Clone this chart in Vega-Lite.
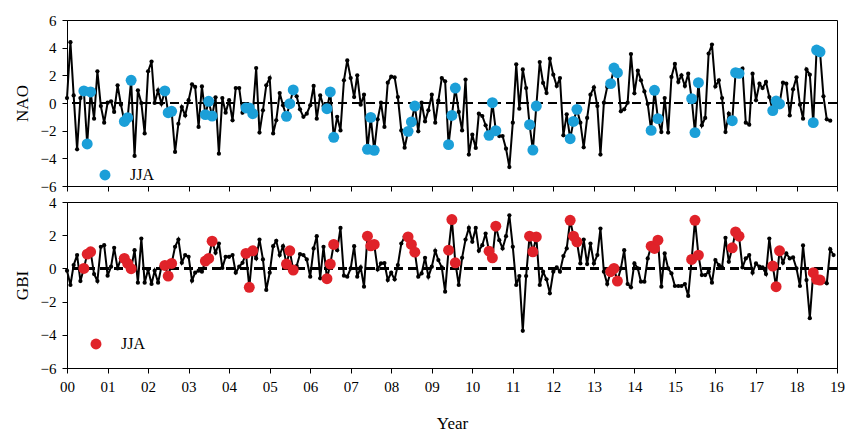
{
  "$schema": "https://vega.github.io/schema/vega-lite/v6.json",
  "background": "white",
  "padding": {"left": 12, "top": 12, "right": 2, "bottom": 5},
  "config": {
    "font": "Liberation Serif",
    "view": {"stroke": "black", "strokeWidth": 1},
    "axis": {
      "grid": false,
      "domainColor": "black",
      "tickColor": "black",
      "labelColor": "black",
      "titleColor": "black",
      "labelFont": "Liberation Serif",
      "titleFont": "Liberation Serif",
      "labelFontSize": 15,
      "titleFontSize": 17,
      "titleFontWeight": "normal",
      "labelOverlap": false,
      "labelFlush": false,
      "tickSize": 5
    },
    "legend": {
      "labelFont": "Liberation Serif",
      "labelFontSize": 16,
      "labelColor": "black",
      "symbolType": "circle",
      "symbolSize": 120,
      "symbolStrokeWidth": 0,
      "labelOffset": 17
    }
  },
  "data": {
    "format": {"parse": {"m": "utc:'%Y-%m'"}},
    "values": [
      {"m":"2000-01","nao":0.36,"gbi":-0.14},{"m":"2000-02","nao":4.4,"gbi":-1.0},{"m":"2000-03","nao":0.55,"gbi":0.2},{"m":"2000-04","nao":-3.35,"gbi":0.8},{"m":"2000-05","nao":0.36,"gbi":-0.76},{"m":"2000-06","nao":0.87,"gbi":0.0},{"m":"2000-07","nao":-2.96,"gbi":0.86},{"m":"2000-08","nao":0.8,"gbi":1.0},{"m":"2000-09","nao":-1.13,"gbi":-0.34},{"m":"2000-10","nao":2.29,"gbi":-0.76},{"m":"2000-11","nao":-0.22,"gbi":1.3},{"m":"2000-12","nao":-1.42,"gbi":1.4},
      {"m":"2001-01","nao":0.02,"gbi":-0.44},{"m":"2001-02","nao":0.12,"gbi":0.1},{"m":"2001-03","nao":-0.65,"gbi":1.24},{"m":"2001-04","nao":1.28,"gbi":0.0},{"m":"2001-05","nao":-0.12,"gbi":0.6},{"m":"2001-06","nao":-1.33,"gbi":0.6},{"m":"2001-07","nao":-1.06,"gbi":0.3},{"m":"2001-08","nao":1.64,"gbi":-0.02},{"m":"2001-09","nao":-3.83,"gbi":1.1},{"m":"2001-10","nao":0.92,"gbi":-0.86},{"m":"2001-11","nao":0.0,"gbi":1.8},{"m":"2001-12","nao":-2.2,"gbi":-0.86},
      {"m":"2002-01","nao":2.29,"gbi":-0.06},{"m":"2002-02","nao":3.0,"gbi":-0.94},{"m":"2002-03","nao":0.0,"gbi":-0.14},{"m":"2002-04","nao":0.92,"gbi":-0.86},{"m":"2002-05","nao":-0.05,"gbi":0.1},{"m":"2002-06","nao":0.87,"gbi":0.18},{"m":"2002-07","nao":-0.7,"gbi":-0.46},{"m":"2002-08","nao":-0.6,"gbi":0.3},{"m":"2002-09","nao":-3.54,"gbi":1.3},{"m":"2002-10","nao":-1.5,"gbi":1.74},{"m":"2002-11","nao":-0.29,"gbi":0.34},{"m":"2002-12","nao":-0.9,"gbi":0.8},
      {"m":"2003-01","nao":0.2,"gbi":0.7},{"m":"2003-02","nao":1.35,"gbi":-0.74},{"m":"2003-03","nao":1.16,"gbi":-0.26},{"m":"2003-04","nao":-1.73,"gbi":-0.14},{"m":"2003-05","nao":1.2,"gbi":-0.2},{"m":"2003-06","nao":-0.84,"gbi":0.44},{"m":"2003-07","nao":0.12,"gbi":0.6},{"m":"2003-08","nao":-0.94,"gbi":1.64},{"m":"2003-09","nao":0.41,"gbi":0.94},{"m":"2003-10","nao":-3.66,"gbi":1.5},{"m":"2003-11","nao":0.36,"gbi":0.03},{"m":"2003-12","nao":-0.7,"gbi":0.7},
      {"m":"2004-01","nao":0.2,"gbi":0.7},{"m":"2004-02","nao":-1.25,"gbi":0.8},{"m":"2004-03","nao":1.08,"gbi":-0.26},{"m":"2004-04","nao":1.08,"gbi":0.1},{"m":"2004-05","nao":-0.7,"gbi":0.34},{"m":"2004-06","nao":-0.36,"gbi":0.9},{"m":"2004-07","nao":-0.36,"gbi":-1.14},{"m":"2004-08","nao":-0.77,"gbi":1.06},{"m":"2004-09","nao":2.53,"gbi":0.6},{"m":"2004-10","nao":-2.14,"gbi":1.74},{"m":"2004-11","nao":-0.53,"gbi":0.54},{"m":"2004-12","nao":1.28,"gbi":-1.3},
      {"m":"2005-01","nao":1.8,"gbi":-0.26},{"m":"2005-02","nao":-2.2,"gbi":1.34},{"m":"2005-03","nao":-1.25,"gbi":1.66},{"m":"2005-04","nao":0.72,"gbi":0.8},{"m":"2005-05","nao":-0.17,"gbi":1.34},{"m":"2005-06","nao":-0.96,"gbi":0.26},{"m":"2005-07","nao":-0.05,"gbi":1.06},{"m":"2005-08","nao":0.94,"gbi":-0.1},{"m":"2005-09","nao":0.48,"gbi":0.14},{"m":"2005-10","nao":-0.46,"gbi":0.86},{"m":"2005-11","nao":-1.0,"gbi":0.8},{"m":"2005-12","nao":-0.77,"gbi":0.54},
      {"m":"2006-01","nao":-0.17,"gbi":-0.5},{"m":"2006-02","nao":1.23,"gbi":1.2},{"m":"2006-03","nao":-1.13,"gbi":1.94},{"m":"2006-04","nao":0.55,"gbi":-0.6},{"m":"2006-05","nao":-0.22,"gbi":1.3},{"m":"2006-06","nao":-0.41,"gbi":-0.62},{"m":"2006-07","nao":0.8,"gbi":0.26},{"m":"2006-08","nao":-2.48,"gbi":1.44},{"m":"2006-09","nao":-1.0,"gbi":1.1},{"m":"2006-10","nao":-1.98,"gbi":2.44},{"m":"2006-11","nao":1.64,"gbi":-0.44},{"m":"2006-12","nao":3.08,"gbi":-0.5},
      {"m":"2007-01","nao":1.8,"gbi":0.0},{"m":"2007-02","nao":0.43,"gbi":1.34},{"m":"2007-03","nao":2.0,"gbi":-0.5},{"m":"2007-04","nao":-0.12,"gbi":0.06},{"m":"2007-05","nao":0.6,"gbi":-1.1},{"m":"2007-06","nao":-3.35,"gbi":1.94},{"m":"2007-07","nao":-1.04,"gbi":1.36},{"m":"2007-08","nao":-3.42,"gbi":1.44},{"m":"2007-09","nao":-1.18,"gbi":-0.06},{"m":"2007-10","nao":0.02,"gbi":0.3},{"m":"2007-11","nao":-1.73,"gbi":0.32},{"m":"2007-12","nao":1.47,"gbi":-0.7},
      {"m":"2008-01","nao":1.9,"gbi":-0.26},{"m":"2008-02","nao":1.85,"gbi":-0.66},{"m":"2008-03","nao":0.43,"gbi":0.2},{"m":"2008-04","nao":-1.98,"gbi":1.5},{"m":"2008-05","nao":-3.23,"gbi":1.9},{"m":"2008-06","nao":-2.05,"gbi":1.9},{"m":"2008-07","nao":-1.37,"gbi":1.44},{"m":"2008-08","nao":-0.22,"gbi":0.98},{"m":"2008-09","nao":-2.05,"gbi":-0.5},{"m":"2008-10","nao":0.02,"gbi":-0.3},{"m":"2008-11","nao":-1.33,"gbi":0.64},{"m":"2008-12","nao":-0.53,"gbi":-0.5},
      {"m":"2009-01","nao":0.6,"gbi":0.1},{"m":"2009-02","nao":-1.42,"gbi":1.06},{"m":"2009-03","nao":0.17,"gbi":0.5},{"m":"2009-04","nao":1.8,"gbi":0.06},{"m":"2009-05","nao":1.57,"gbi":-1.4},{"m":"2009-06","nao":-3.01,"gbi":1.1},{"m":"2009-07","nao":-0.9,"gbi":2.94},{"m":"2009-08","nao":1.08,"gbi":0.34},{"m":"2009-09","nao":-0.65,"gbi":-1.0},{"m":"2009-10","nao":-1.98,"gbi":0.64},{"m":"2009-11","nao":1.69,"gbi":1.74},{"m":"2009-12","nao":-3.73,"gbi":2.44},
      {"m":"2010-01","nao":-2.29,"gbi":1.6},{"m":"2010-02","nao":-3.25,"gbi":2.44},{"m":"2010-03","nao":-0.77,"gbi":1.06},{"m":"2010-04","nao":-0.94,"gbi":1.4},{"m":"2010-05","nao":-1.61,"gbi":2.1},{"m":"2010-06","nao":-2.34,"gbi":1.04},{"m":"2010-07","nao":0.02,"gbi":0.64},{"m":"2010-08","nao":-2.0,"gbi":2.54},{"m":"2010-09","nao":-2.39,"gbi":1.7},{"m":"2010-10","nao":-2.39,"gbi":1.2},{"m":"2010-11","nao":-3.3,"gbi":1.94},{"m":"2010-12","nao":-4.63,"gbi":3.2},
      {"m":"2011-01","nao":-1.42,"gbi":1.3},{"m":"2011-02","nao":2.8,"gbi":-1.0},{"m":"2011-03","nao":-0.41,"gbi":-0.46},{"m":"2011-04","nao":2.43,"gbi":-3.76},{"m":"2011-05","nao":1.08,"gbi":-0.46},{"m":"2011-06","nao":-1.57,"gbi":1.94},{"m":"2011-07","nao":-3.4,"gbi":1.0},{"m":"2011-08","nao":-0.22,"gbi":1.9},{"m":"2011-09","nao":2.96,"gbi":-1.0},{"m":"2011-10","nao":1.45,"gbi":-0.2},{"m":"2011-11","nao":0.72,"gbi":-0.66},{"m":"2011-12","nao":3.2,"gbi":-1.5},
      {"m":"2012-01","nao":2.05,"gbi":-0.2},{"m":"2012-02","nao":1.23,"gbi":0.06},{"m":"2012-03","nao":1.8,"gbi":-0.2},{"m":"2012-04","nao":-2.34,"gbi":0.74},{"m":"2012-05","nao":-0.82,"gbi":1.2},{"m":"2012-06","nao":-2.58,"gbi":2.9},{"m":"2012-07","nao":-1.33,"gbi":1.94},{"m":"2012-08","nao":-0.46,"gbi":1.6},{"m":"2012-09","nao":-1.42,"gbi":0.3},{"m":"2012-10","nao":-3.2,"gbi":1.74},{"m":"2012-11","nao":-1.08,"gbi":0.26},{"m":"2012-12","nao":0.6,"gbi":1.5},
      {"m":"2013-01","nao":1.13,"gbi":0.3},{"m":"2013-02","nao":-0.22,"gbi":0.8},{"m":"2013-03","nao":-3.73,"gbi":2.4},{"m":"2013-04","nao":0.02,"gbi":-0.2},{"m":"2013-05","nao":1.16,"gbi":-0.94},{"m":"2013-06","nao":1.4,"gbi":-0.2},{"m":"2013-07","nao":2.53,"gbi":0.0},{"m":"2013-08","nao":2.19,"gbi":-0.76},{"m":"2013-09","nao":-0.6,"gbi":0.0},{"m":"2013-10","nao":-0.46,"gbi":1.1},{"m":"2013-11","nao":0.02,"gbi":-0.94},{"m":"2013-12","nao":3.54,"gbi":-1.14},
      {"m":"2014-01","nao":0.7,"gbi":0.3},{"m":"2014-02","nao":2.34,"gbi":0.0},{"m":"2014-03","nao":1.64,"gbi":-0.8},{"m":"2014-04","nao":0.84,"gbi":-0.8},{"m":"2014-05","nao":-0.07,"gbi":0.6},{"m":"2014-06","nao":-1.98,"gbi":1.34},{"m":"2014-07","nao":0.92,"gbi":1.2},{"m":"2014-08","nao":-1.13,"gbi":1.7},{"m":"2014-09","nao":-2.1,"gbi":-1.1},{"m":"2014-10","nao":0.36,"gbi":0.9},{"m":"2014-11","nao":-2.14,"gbi":0.0},{"m":"2014-12","nao":1.88,"gbi":-0.3},
      {"m":"2015-01","nao":2.82,"gbi":-1.06},{"m":"2015-02","nao":1.52,"gbi":-1.06},{"m":"2015-03","nao":2.0,"gbi":-1.06},{"m":"2015-04","nao":1.23,"gbi":-0.94},{"m":"2015-05","nao":2.12,"gbi":-1.66},{"m":"2015-06","nao":0.31,"gbi":0.54},{"m":"2015-07","nao":-2.14,"gbi":2.9},{"m":"2015-08","nao":1.47,"gbi":0.8},{"m":"2015-09","nao":-1.61,"gbi":-0.4},{"m":"2015-10","nao":-1.08,"gbi":-0.4},{"m":"2015-11","nao":3.57,"gbi":-0.2},{"m":"2015-12","nao":4.22,"gbi":-0.86},
      {"m":"2016-01","nao":1.2,"gbi":0.5},{"m":"2016-02","nao":1.64,"gbi":0.2},{"m":"2016-03","nao":0.36,"gbi":0.06},{"m":"2016-04","nao":-2.1,"gbi":1.84},{"m":"2016-05","nao":-0.77,"gbi":0.4},{"m":"2016-06","nao":-1.28,"gbi":1.24},{"m":"2016-07","nao":2.19,"gbi":2.2},{"m":"2016-08","nao":2.14,"gbi":1.94},{"m":"2016-09","nao":2.48,"gbi":0.06},{"m":"2016-10","nao":-1.42,"gbi":0.6},{"m":"2016-11","nao":-1.57,"gbi":0.8},{"m":"2016-12","nao":2.12,"gbi":-0.26},
      {"m":"2017-01","nao":0.19,"gbi":0.3},{"m":"2017-02","nao":1.4,"gbi":0.1},{"m":"2017-03","nao":1.08,"gbi":0.06},{"m":"2017-04","nao":1.52,"gbi":-0.34},{"m":"2017-05","nao":0.43,"gbi":1.8},{"m":"2017-06","nao":-0.55,"gbi":0.14},{"m":"2017-07","nao":0.14,"gbi":-1.1},{"m":"2017-08","nao":-0.07,"gbi":1.06},{"m":"2017-09","nao":1.47,"gbi":0.34},{"m":"2017-10","nao":1.4,"gbi":0.9},{"m":"2017-11","nao":-0.9,"gbi":0.6},{"m":"2017-12","nao":0.99,"gbi":0.66},
      {"m":"2018-01","nao":1.86,"gbi":0.0},{"m":"2018-02","nao":-0.12,"gbi":-1.06},{"m":"2018-03","nao":-1.13,"gbi":1.38},{"m":"2018-04","nao":2.43,"gbi":-0.7},{"m":"2018-05","nao":2.05,"gbi":-3.0},{"m":"2018-06","nao":-1.42,"gbi":-0.26},{"m":"2018-07","nao":3.83,"gbi":-0.66},{"m":"2018-08","nao":3.7,"gbi":-0.7},{"m":"2018-09","nao":0.48,"gbi":-0.8},{"m":"2018-10","nao":-1.18,"gbi":-0.9},{"m":"2018-11","nao":-1.28,"gbi":1.16},{"m":"2018-12","nao":null,"gbi":0.8}
    ]
  },
  "bounds": "flush",
  "spacing": 16,
  "resolve": {"scale": {"color": "independent"}, "legend": {"color": "independent"}},
  "vconcat": [
    {
      "width": 770,
      "height": 166,
      "encoding": {
        "x": {"field": "m", "type": "temporal",
          "scale": {"type": "utc", "domain": [{"year": 2000, "month": 1, "date": 1, "utc": true}, {"year": 2019, "month": 1, "date": 1, "utc": true}]},
          "axis": {"labels": false, "title": null, "tickCount": {"interval": "year", "step": 1}}},
        "y": {"field": "nao", "type": "quantitative", "scale": {"domain": [-6, 6], "nice": false},
          "axis": {"title": "NAO", "values": [-6, -4, -2, 0, 2, 4, 6], "labelPadding": 6, "titlePadding": 9}}
      },
      "layer": [
        {
          "mark": {"type": "rule", "color": "black", "strokeWidth": 1.5, "strokeDash": [9, 5]},
          "encoding": {"x": null, "y": {"datum": 0, "type": "quantitative"}}
        },
        {
          "mark": {"type": "line", "color": "black", "strokeWidth": 2}
        },
        {
          "mark": {"type": "point", "filled": true, "color": "black", "opacity": 1, "size": 18}
        },
        {
          "transform": [{"filter": "utcmonth(datum.m) >= 5 && utcmonth(datum.m) <= 7 && isValid(datum.nao)"}],
          "mark": {"type": "point", "filled": true, "opacity": 1, "size": 120},
          "encoding": {
            "color": {"datum": "JJA", "type": "nominal", "scale": {"range": ["#1b9fd8"]},
              "legend": {"title": null, "orient": "none", "legendX": 30, "legendY": 147}}
          }
        }
      ]
    },
    {
      "width": 770,
      "height": 166,
      "encoding": {
        "x": {"field": "m", "type": "temporal",
          "scale": {"type": "utc", "domain": [{"year": 2000, "month": 1, "date": 1, "utc": true}, {"year": 2019, "month": 1, "date": 1, "utc": true}]},
          "axis": {"title": "Year", "titleFontSize": 17, "titlePadding": 21, "labelPadding": 6, "tickCount": {"interval": "year", "step": 1}, "labelExpr": "utcFormat(datum.value, '%y')"}},
        "y": {"field": "gbi", "type": "quantitative", "scale": {"domain": [-6, 4], "nice": false},
          "axis": {"title": "GBI", "values": [-6, -4, -2, 0, 2, 4], "labelPadding": 6, "titlePadding": 9}}
      },
      "layer": [
        {
          "mark": {"type": "rule", "color": "black", "strokeWidth": 1.5, "strokeDash": [9, 5]},
          "encoding": {"x": null, "y": {"datum": 0, "type": "quantitative"}}
        },
        {
          "mark": {"type": "line", "color": "black", "strokeWidth": 2}
        },
        {
          "mark": {"type": "point", "filled": true, "color": "black", "opacity": 1, "size": 18}
        },
        {
          "transform": [{"filter": "utcmonth(datum.m) >= 5 && utcmonth(datum.m) <= 7"}],
          "mark": {"type": "point", "filled": true, "opacity": 1, "size": 120},
          "encoding": {
            "color": {"datum": "JJA", "type": "nominal", "scale": {"range": ["#e02229"]},
              "legend": {"title": null, "orient": "none", "legendX": 21, "legendY": 134}}
          }
        }
      ]
    }
  ]
}
